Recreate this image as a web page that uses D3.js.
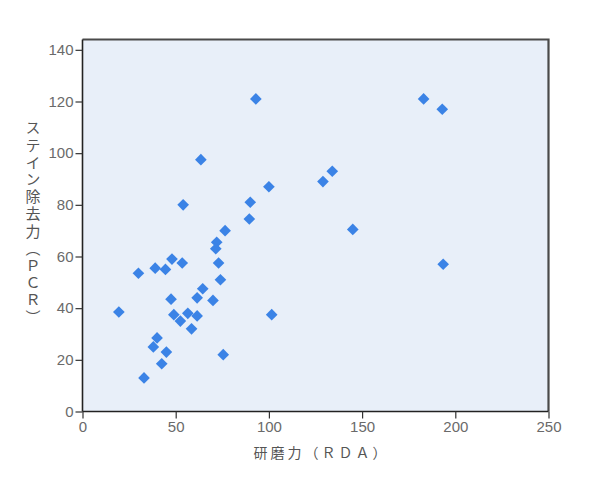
<!DOCTYPE html>
<html><head><meta charset="utf-8">
<script src="https://cdn.jsdelivr.net/npm/d3@7"></script>
<style>
html,body{margin:0;padding:0;background:#fff;}
svg{display:block;}
</style></head>
<body>
<svg id="chart" width="600" height="482"></svg>
<script>
const rdaValues = [93,183,193,63.5,134,129,100,54,90,89.5,145,76.5,72,71.5,73,74,193.5,48,39,44.5,30,53.5,64.5,47.5,61.5,70,19.5,49,52.5,56.5,61.5,58.5,101.5,40,38,45,42.5,33,75.5];
const pcrValues = [121,121,117,97.5,93,89,87,80,81,74.5,70.5,70,65.5,63,57.5,51,57,59,55.5,55,53.5,57.5,47.5,43.5,44,43,38.5,37.5,35,38,37,32,37.5,28.5,25,23,18.5,13,22];
const xTicks = [0,50,100,150,200,250];
const yTicks = [0,20,40,60,80,100,120,140];
const xTitle = "研磨力（ＲＤＡ）";
const yTitle = "ステイン除去力（ＰＣＲ）";

const svg = d3.select("#chart");
const L = 82.5, R = 548.5, T = 39.5, B = 411.5;
const x = d3.scaleLinear().domain([0,250]).range([L,R]);
const y = d3.scaleLinear().domain([0,144]).range([B,T]);

svg.append("rect").attr("x",L).attr("y",T).attr("width",R-L).attr("height",B-T).attr("fill","#e8eff9");

// frame top/right
svg.append("path").attr("d",`M${L},${T}H${R}V${B}`).attr("fill","none").attr("stroke","#4a4a4a").attr("stroke-width",2.2);

const tickFont = "'Liberation Sans', Arial, sans-serif";
const xAxis = svg.append("g").attr("transform",`translate(0,${B})`)
  .call(d3.axisBottom(x).tickValues(xTicks).tickSize(7).tickSizeOuter(0).tickPadding(3));
const yAxis = svg.append("g").attr("transform",`translate(${L},0)`)
  .call(d3.axisLeft(y).tickValues(yTicks).tickSize(7).tickSizeOuter(0).tickPadding(2));
[xAxis,yAxis].forEach(g=>{
  g.select(".domain").attr("stroke","#222").attr("stroke-width",1.6);
  g.selectAll(".tick line").attr("stroke","#333").attr("stroke-width",1.2);
  g.selectAll(".tick text").attr("fill","#6a6a6a").attr("font-size",15).attr("font-family",tickFont).attr("font-weight",300);
});
yAxis.select(".domain").attr("d",`M0,${B}V${T}`);
xAxis.select(".domain").attr("d",`M${L},0H${R}`);

const data = rdaValues.map((v,i)=>({x:v,y:pcrValues[i]}));
const sym = d3.symbol().type(d3.symbolSquare).size(68);
svg.append("g").selectAll("path").data(data).join("path")
  .attr("d",sym)
  .attr("transform",d=>`translate(${x(d.x)},${y(d.y)}) rotate(45)`)
  .attr("fill","#3b83e6");

const jpFont = "'Noto Sans CJK JP', sans-serif";
svg.append("text").attr("x",(L+R)/2 + 6).attr("y",458)
  .attr("text-anchor","middle").attr("font-family",jpFont).attr("font-size",14)
  .attr("letter-spacing",3).attr("fill","#555").text(xTitle);

svg.append("text").attr("x",33).attr("y",(T+B)/2 - 2)
  .attr("text-anchor","middle").attr("font-family",jpFont).attr("font-size",15)
  .attr("letter-spacing",2.2).attr("fill","#555")
  .style("writing-mode","vertical-rl").style("text-orientation","upright")
  .text(yTitle);
</script>
</body></html>
